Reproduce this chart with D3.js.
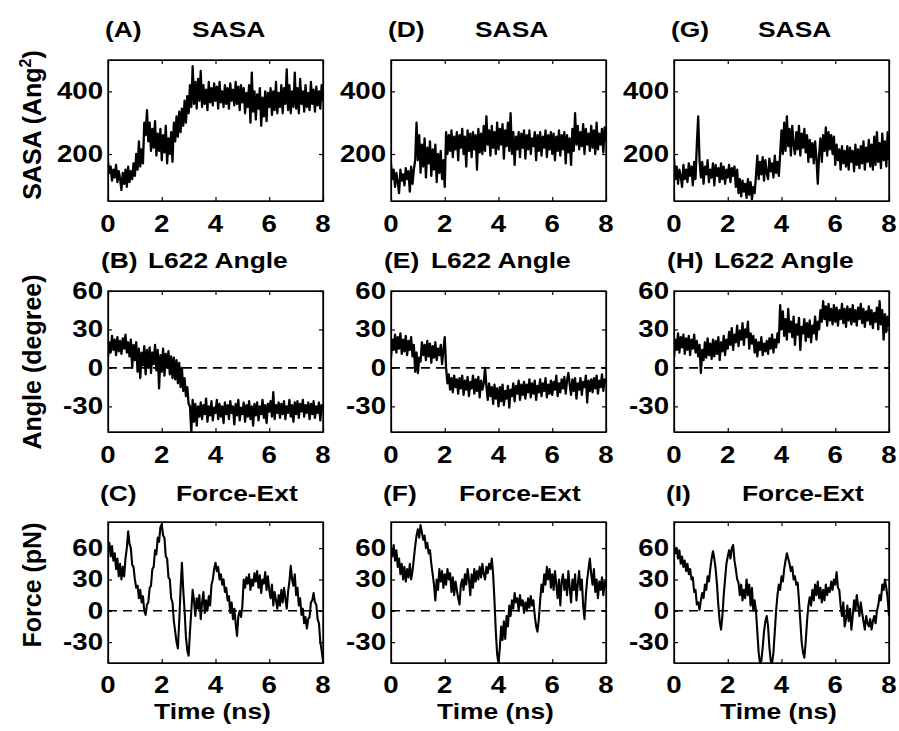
<!DOCTYPE html>
<html>
<head>
<meta charset="utf-8">
<script src="https://cdn.jsdelivr.net/npm/d3@7"></script>
<style>
  body { margin: 0; background: #fff; }
  svg { display: block; }
  text { font-family: 'Liberation Sans', Arial, sans-serif; font-weight: bold; fill: #000; }
</style>
</head>
<body>
<div id="chart"></div>
<script>
// samples are every 0.05 ns, 0..8 ns
var sampleStep = 0.05;
var xTicks = [0, 2, 4, 6, 8];
var sasaTicks = [200, 400];
var angleTicks = [-30, 0, 30, 60];
var forceTicks = [-30, 0, 30, 60];
var panelLetters = [['(A)', '(D)', '(G)'], ['(B)', '(E)', '(H)'], ['(C)', '(F)', '(I)']];
var rowTitles = ['SASA', 'L622 Angle', 'Force-Ext'];
var xLabel = 'Time (ns)';

// SASA (Ang^2), top row
var sasaA = [175,140,160,115,150,125,165,110,145,120,
  85,140,105,150,95,160,110,145,120,170,
  130,200,150,240,160,215,170,300,260,340,
  240,300,210,280,220,305,195,265,210,280,
  180,260,205,290,170,250,200,270,175,300,
  240,320,255,335,270,345,290,370,300,385,
  330,420,350,480,360,430,345,440,370,465,
  350,420,360,405,340,430,365,410,355,425,
  370,415,345,430,365,400,350,420,360,410,
  345,425,370,405,355,430,360,415,340,420,
  365,410,330,395,350,420,300,460,335,400,
  310,390,345,410,290,380,320,400,305,395,
  350,410,325,400,340,430,330,395,350,420,
  330,410,360,470,340,420,330,400,350,460,
  345,410,330,440,360,400,335,420,350,395,
  340,430,360,405,335,415,355,400,345,420,
  370];
var sasaD = [170,120,150,95,140,110,75,150,115,135,
  100,155,120,145,80,160,105,150,180,300,
  180,260,140,230,160,250,125,220,170,240,
  130,215,150,230,110,200,140,210,120,180,
  95,270,200,260,210,275,190,255,215,270,
  180,260,220,280,200,255,160,275,210,265,
  190,270,215,260,150,280,205,265,200,290,
  210,320,230,275,195,290,220,270,200,300,
  215,280,230,295,185,275,225,300,210,330,
  200,270,165,255,215,270,190,265,220,275,
  185,260,215,275,200,250,225,270,180,260,
  210,270,195,255,220,275,190,260,215,270,
  200,265,180,255,210,275,195,260,215,270,
  170,260,205,250,165,280,210,330,230,290,
  215,270,225,295,200,280,230,265,210,290,
  220,275,200,300,215,265,230,280,205,285,
  240];
var sasaG = [185,120,160,105,150,130,95,165,120,150,
  110,170,130,160,100,175,120,230,320,180,
  125,175,105,160,135,180,110,150,125,170,
  100,165,130,155,110,170,120,160,105,150,
  125,165,110,155,130,160,95,150,75,120,
  65,115,80,105,60,120,70,110,55,95,
  75,130,195,120,175,135,190,115,180,140,
  120,185,145,170,125,195,140,175,130,200,
  275,200,300,210,320,225,280,195,290,230,
  200,270,215,290,195,265,220,280,205,260,
  175,245,190,235,170,240,185,105,200,250,
  175,260,210,285,195,270,215,260,200,255,
  165,230,180,215,150,225,170,210,160,225,
  150,220,175,210,145,230,165,215,155,225,
  170,240,150,220,175,245,160,230,150,255,
  165,270,175,235,155,265,180,240,160,270,
  180];

// L622 angle (degree), middle row
var angleB = [8,20,12,25,14,22,10,24,13,21,
  11,23,15,26,12,20,9,22,0,18,
  6,20,-3,15,-8,12,2,17,-5,14,
  0,16,-4,12,3,18,-2,14,-16,10,
  -3,15,-6,11,0,13,-5,9,-8,8,
  -9,6,-12,4,-15,0,-18,-8,-22,-15,
  -28,-30,-50,-25,-42,-28,-45,-30,-38,-27,
  -40,-29,-36,-24,-42,-30,-37,-26,-41,-31,
  -35,-25,-40,-28,-38,-30,-43,-27,-36,-29,
  -40,-26,-35,-30,-44,-28,-37,-25,-41,-31,
  -36,-27,-42,-29,-38,-26,-40,-30,-45,-28,
  -37,-27,-41,-30,-36,-25,-39,-29,-43,-28,
  -34,-26,-38,-19,-40,-29,-35,-27,-39,-28,
  -36,-26,-40,-30,-35,-25,-38,-29,-42,-27,
  -36,-26,-39,-28,-34,-25,-38,-29,-35,-27,
  -40,-28,-36,-26,-39,-30,-35,-27,-41,-29,
  -33];
var angleE = [8,22,14,26,12,24,15,27,11,22,
  13,25,10,21,14,24,9,18,-3,12,
  -4,8,5,20,10,18,6,21,9,19,
  4,17,8,20,6,15,10,18,3,14,
  24,0,-12,-5,-17,-8,-19,-6,-15,-9,
  -20,-8,-16,-6,-21,-10,-17,-7,-22,-11,
  -16,-6,-20,-9,-18,-7,-23,-10,-17,-12,
  0,-14,-25,-12,-22,-15,-28,-13,-24,-16,
  -30,-15,-26,-13,-29,-18,-24,-14,-31,-17,
  -22,-12,-26,-14,-20,-10,-25,-13,-21,-11,
  -24,-13,-19,-9,-23,-12,-20,-10,-25,-14,
  -19,-9,-22,-12,-18,-8,-23,-13,-20,-10,
  -21,-11,-17,-6,-22,-12,-19,-9,-16,-7,
  -20,-10,-4,-13,-21,-9,-18,-8,-24,-12,
  -17,-8,-21,-11,-15,-6,-27,-10,-18,-9,
  -19,-8,-16,-6,-20,-10,-15,-5,-18,-9,
  -12];
var angleH = [8,22,14,27,12,24,16,26,11,23,
  14,25,10,22,15,26,12,21,9,18,
  -4,14,6,20,8,23,10,19,7,22,
  9,21,11,24,6,20,13,25,10,22,
  15,28,18,31,14,26,20,33,17,29,
  22,35,18,30,24,36,15,27,19,25,
  12,22,9,20,14,24,10,19,13,21,
  11,23,15,26,12,22,16,27,20,49,
  30,44,25,38,22,46,28,36,24,40,
  18,34,26,39,14,32,27,38,21,35,
  24,37,20,33,27,40,22,36,30,45,
  36,52,38,48,33,50,37,46,34,49,
  36,47,33,45,38,50,35,46,32,48,
  37,46,34,49,36,45,33,47,38,50,
  35,46,32,44,37,48,34,45,31,43,
  36,47,30,52,34,45,22,42,28,40,
  32];

// Force-extension (pN), bottom row
var forceC = [58,65,52,62,48,55,40,50,33,45,
  30,42,33,50,60,76,64,60,44,42,
  30,22,24,12,20,8,14,0,-4,6,
  8,22,24,40,42,58,54,70,66,80,
  83,72,70,52,50,32,30,12,8,-10,
  -20,-30,-36,-10,20,46,20,0,-25,-38,
  -43,-20,0,20,10,-5,12,2,15,-8,
  8,18,-2,10,0,14,5,25,30,40,
  46,38,42,30,35,25,30,18,22,10,
  14,-2,8,-8,2,-12,-24,-5,0,-6,
  5,30,22,32,26,35,20,30,24,36,
  28,38,22,34,17,30,26,37,20,33,
  20,12,25,5,18,10,2,15,5,20,
  8,22,12,2,18,28,43,30,24,35,
  15,22,5,12,-4,2,-12,-6,-17,-8,
  -6,8,10,17,8,6,-8,-12,-30,-38,
  -49];
var forceF = [60,52,63,48,58,42,50,35,45,30,
  42,28,40,32,45,30,38,50,62,72,
  78,70,82,75,68,72,60,65,55,58,
  45,35,25,10,30,20,40,28,38,22,
  35,25,40,30,36,18,32,15,28,20,
  12,6,25,30,20,35,25,40,30,15,
  35,22,40,28,38,30,42,32,45,35,
  30,42,36,45,40,50,35,10,-20,-42,
  -50,-35,-15,-28,-10,-27,-5,-15,5,-5,
  10,2,17,8,12,0,15,5,10,-2,
  8,0,12,3,14,5,10,-5,-15,-20,
  -8,10,25,18,35,25,42,30,40,22,
  35,20,38,25,12,30,5,28,35,20,
  30,15,38,22,8,30,20,35,10,25,
  38,20,30,5,-8,15,30,40,50,35,
  25,40,18,30,12,28,20,32,15,28,
  22];
var forceI = [63,55,60,50,58,45,52,42,48,38,
  45,35,40,30,32,18,20,6,8,1,
  10,17,12,25,20,33,28,40,50,57,
  50,40,25,5,-10,-18,-5,15,30,45,
  52,58,50,60,63,48,40,30,27,15,
  25,10,20,12,30,15,25,5,22,0,
  10,0,-20,-40,-50,-48,-35,-20,-10,-5,
  -15,-35,-48,-50,-40,-20,0,15,25,20,
  33,28,40,48,55,50,45,38,42,30,
  33,25,27,10,-10,-30,-40,-45,-30,-10,
  5,13,5,20,10,25,15,28,12,22,
  8,20,10,25,15,22,18,28,20,30,
  25,37,22,20,5,-5,8,-15,-8,5,
  -10,2,-18,-5,10,0,15,5,-5,8,
  -2,-10,-18,-5,-12,-15,-8,-18,-10,-5,
  -12,0,5,15,10,25,20,30,22,12,
  -5];

var rows = [
  {domain: [50, 500], ticks: sasaTicks, series: [sasaA, sasaD, sasaG], zeroLine: false, lw: 2.3},
  {domain: [-50, 60], ticks: angleTicks, series: [angleB, angleE, angleH], zeroLine: true, lw: 2.3},
  {domain: [-50, 85], ticks: forceTicks, series: [forceC, forceF, forceI], zeroLine: true, lw: 2.1}
];

var width = 899, height = 731;
var colLeft = [108, 391, 674];
var rowTop = [60, 291, 522];
var plotW = 215, plotH = 141;
// title offsets relative to frame left, per row: [letter, title]
var titleOffsets = [[-3, 84], [-7, 40], [-8, 68]];
var titleBase = [37, 268, 501];
var tickBase = [31, 31, 30];
var ylabelCenter = [125, 362, 585];
var stretch = 'scale(1.2,1)';

var svg = d3.select("#chart").append("svg")
    .attr("width", width)
    .attr("height", height);

function styleAxis(g) {
  g.selectAll("path, line")
      .attr("stroke", "#000")
      .attr("stroke-width", 1.2);
}

function drawPanel(row, col) {
  let cfg = rows[row];
  let left = colLeft[col], top = rowTop[row];
  let xScale = d3.scaleLinear().domain([0, 8]).range([left, left + plotW]);
  let yScale = d3.scaleLinear().domain(cfg.domain).range([top + plotH, top]);
  let data = cfg.series[col];
  let clipId = "clip-" + row + "-" + col;

  svg.append("clipPath").attr("id", clipId)
    .append("rect")
      .attr("x", left).attr("y", top)
      .attr("width", plotW).attr("height", plotH);

  if (cfg.zeroLine) {
    svg.append("line")
        .attr("x1", xScale(0)).attr("x2", xScale(8))
        .attr("y1", yScale(0)).attr("y2", yScale(0))
        .attr("stroke", "#000")
        .attr("stroke-width", 1.6)
        .attr("stroke-dasharray", "9,6");
  }

  let line = d3.line()
      .x(function(d, i) { return xScale(i * sampleStep); })
      .y(function(d) { return yScale(d); });

  svg.append("path")
    .datum(data)
      .attr("clip-path", "url(#" + clipId + ")")
      .attr("fill", "none")
      .attr("stroke", "#000")
      .attr("stroke-width", cfg.lw)
      .attr("stroke-linejoin", "round")
      .attr("d", line);

  // matlab style inward ticks on every side
  svg.append("g")
      .attr("transform", "translate(0," + (top + plotH) + ")")
      .call(d3.axisBottom(xScale).tickValues(xTicks).tickSizeInner(-4).tickSizeOuter(0).tickFormat(""))
      .call(styleAxis);
  svg.append("g")
      .attr("transform", "translate(0," + top + ")")
      .call(d3.axisTop(xScale).tickValues(xTicks).tickSizeInner(-4).tickSizeOuter(0).tickFormat(""))
      .call(styleAxis);
  svg.append("g")
      .attr("transform", "translate(" + left + ",0)")
      .call(d3.axisLeft(yScale).tickValues(cfg.ticks).tickSizeInner(-4).tickSizeOuter(0).tickFormat(""))
      .call(styleAxis);
  svg.append("g")
      .attr("transform", "translate(" + (left + plotW) + ",0)")
      .call(d3.axisRight(yScale).tickValues(cfg.ticks).tickSizeInner(-4).tickSizeOuter(0).tickFormat(""))
      .call(styleAxis);

  svg.append("rect")
      .attr("x", left).attr("y", top)
      .attr("width", plotW).attr("height", plotH)
      .attr("fill", "none")
      .attr("stroke", "#000")
      .attr("stroke-width", 1.4);

  // tick labels
  svg.selectAll(null)
    .data(xTicks)
    .enter().append("text")
      .attr("transform", function(d) { return "translate(" + xScale(d) + "," + (top + plotH + tickBase[row]) + ")" + stretch; })
      .attr("text-anchor", "middle")
      .style("font-size", "23px")
      .text(function(d) { return d; });
  svg.selectAll(null)
    .data(cfg.ticks)
    .enter().append("text")
      .attr("transform", function(d) { return "translate(" + (left - 5) + "," + (yScale(d) + 8) + ")" + stretch; })
      .attr("text-anchor", "end")
      .style("font-size", "23px")
      .text(function(d) { return d; });

  // panel title
  svg.append("text")
      .attr("transform", "translate(" + (left + titleOffsets[row][0]) + "," + titleBase[row] + ")" + stretch)
      .style("font-size", "22px")
      .text(panelLetters[row][col]);
  svg.append("text")
      .attr("transform", "translate(" + (left + titleOffsets[row][1]) + "," + titleBase[row] + ")" + stretch)
      .style("font-size", "22px")
      .text(rowTitles[row]);
}

for (let r = 0; r < 3; ++r)
  for (let c = 0; c < 3; ++c)
    drawPanel(r, c);

// y axis labels
let yl = svg.append("text")
    .attr("transform", "translate(41," + ylabelCenter[0] + ") rotate(-90)")
    .attr("text-anchor", "middle")
    .style("font-size", "25px");
yl.append("tspan").text("SASA (Ang");
yl.append("tspan").attr("dy", -10).style("font-size", "16px").text("2");
yl.append("tspan").attr("dy", 10).text(")");

svg.append("text")
    .attr("transform", "translate(41," + ylabelCenter[1] + ") rotate(-90)")
    .attr("text-anchor", "middle")
    .style("font-size", "25px")
    .text("Angle (degree)");
svg.append("text")
    .attr("transform", "translate(41," + ylabelCenter[2] + ") rotate(-90)")
    .attr("text-anchor", "middle")
    .style("font-size", "25px")
    .text("Force (pN)");

// x axis labels under the bottom row
for (let c = 0; c < 3; ++c) {
  svg.append("text")
      .attr("transform", "translate(" + (colLeft[c] + plotW / 2 - 3) + ",719)" + stretch)
      .attr("text-anchor", "middle")
      .style("font-size", "22px")
      .text(xLabel);
}
</script>
</body>
</html>
